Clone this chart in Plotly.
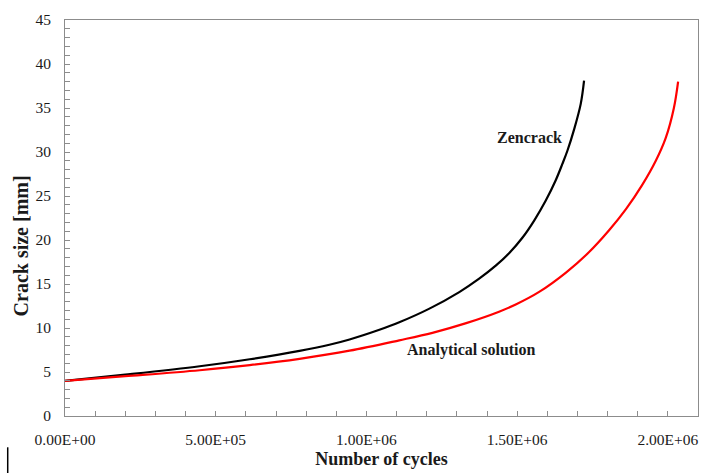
import numpy as np
import plotly.graph_objects as go

# Zencrack (black) – number of cycles vs crack size [mm]
zen_cycles = [0, 0.2e6, 0.447e6, 0.613e6, 0.778e6, 0.877e6, 0.944e6, 1.043e6,
              1.109e6, 1.209e6, 1.308e6, 1.374e6, 1.429e6, 1.474e6, 1.518e6,
              1.556e6, 1.595e6, 1.628e6, 1.650e6, 1.667e6, 1.689e6, 1.711e6, 1.722e6]
zen_size = [4.0, 4.7, 5.65, 6.45, 7.4, 8.1, 8.7, 9.8,
            10.65, 12.2, 14.08, 15.6, 17.08, 18.52, 20.28,
            22.18, 24.48, 26.79, 28.64, 30.17, 32.57, 35.47, 38.1]

# Analytical solution (red)
ana_cycles = [0, 0.2e6, 0.447e6, 0.613e6, 0.778e6, 0.944e6, 1.109e6, 1.219e6,
              1.331e6, 1.44e6, 1.497e6, 1.573e6, 1.662e6, 1.738e6, 1.805e6,
              1.861e6, 1.914e6, 1.96e6, 1.993e6, 2.02e6, 2.034e6]
ana_size = [4.0, 4.52, 5.2, 5.78, 6.5, 7.42, 8.6, 9.45,
            10.55, 11.85, 12.7, 14.1, 16.3, 18.6, 21.1,
            23.5, 26.2, 29.0, 31.6, 35.0, 38.0]

x_tickvals = [0, 5e5, 1e6, 1.5e6, 2e6]
x_ticktext = ["0.00E+00", "5.00E+05", "1.00E+06", "1.50E+06", "2.00E+06"]
y_tickvals = [0, 5, 10, 15, 20, 25, 30, 35, 40, 45]

SERIF = "Liberation Serif, Times New Roman, serif"
AXC = "#8c8c8c"
TXT = "#1a1a1a"

fig = go.Figure()
fig.add_trace(go.Scatter(x=zen_cycles, y=zen_size, mode="lines",
                         line=dict(color="black", width=2.2, shape="spline", smoothing=1.0),
                         name="Zencrack", showlegend=False, hoverinfo="skip"))
fig.add_trace(go.Scatter(x=ana_cycles, y=ana_size, mode="lines",
                         line=dict(color="#ff0000", width=2.2, shape="spline", smoothing=1.0),
                         name="Analytical solution", showlegend=False, hoverinfo="skip"))

fig.add_annotation(x=1.54e6, y=31.6, text="<b>Zencrack</b>", showarrow=False,
                   font=dict(family=SERIF, size=16, color=TXT))
fig.add_annotation(x=1.35e6, y=7.45, text="<b>Analytical solution</b>", showarrow=False,
                   font=dict(family=SERIF, size=16, color=TXT))

# y-axis title placed as in the reference (below the plot centre)
fig.add_annotation(xref="paper", yref="paper", x=-0.069, y=0.429, textangle=-90,
                   text="<b>Crack size [mm]</b>", showarrow=False,
                   xanchor="center", yanchor="middle",
                   font=dict(family=SERIF, size=20, color=TXT))

# stray text cursor mark at bottom-left of the picture
fig.add_shape(type="line", xref="paper", yref="paper", x0=-0.0905, x1=-0.0905,
              y0=-0.079, y1=-0.145, line=dict(color="black", width=1.5))

minor_x = list(np.arange(0, 2.1e6 + 1, 1e5))
minor_y = list(range(0, 46))

fig.update_xaxes(range=[0, 2.1e6], tickmode="array", tickvals=x_tickvals, ticktext=x_ticktext,
                 ticks="inside", ticklen=5, tickcolor=AXC, showline=True, linecolor=AXC,
                 linewidth=1, mirror=True, showgrid=False, zeroline=False,
                 ticklabelstandoff=9,
                 minor=dict(tickmode="array", tickvals=minor_x, ticks="inside", ticklen=5,
                            tickcolor=AXC, showgrid=False),
                 tickfont=dict(family=SERIF, size=15.5, color=TXT),
                 title=dict(text="<b>Number of cycles</b>", standoff=5,
                            font=dict(family=SERIF, size=18, color=TXT)))
fig.update_yaxes(range=[0, 45], tickmode="array", tickvals=y_tickvals,
                 ticks="inside", ticklen=5, tickcolor=AXC, showline=True, linecolor=AXC,
                 linewidth=1, mirror=True, showgrid=False, zeroline=False,
                 ticklabelstandoff=10,
                 minor=dict(tickmode="array", tickvals=minor_y, ticks="inside", ticklen=5,
                            tickcolor=AXC, showgrid=False),
                 tickfont=dict(family=SERIF, size=15.5, color=TXT))

fig.update_layout(width=701, height=473, margin=dict(l=65, r=3, t=20, b=57),
                  plot_bgcolor="white", paper_bgcolor="white")

fig.write_html("out.html")
